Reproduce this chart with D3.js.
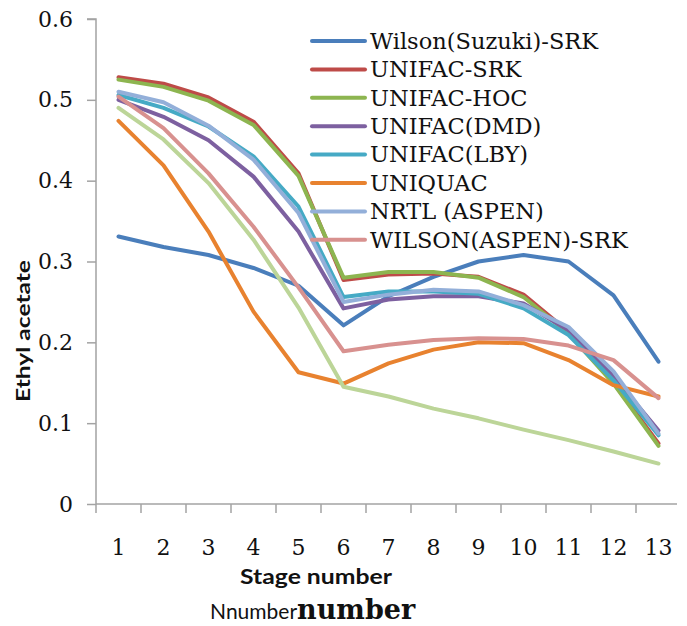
<!DOCTYPE html>
<html>
<head>
<meta charset="utf-8">
<script src="https://cdn.jsdelivr.net/npm/d3@7"></script>
<style>
  html, body { margin: 0; padding: 0; background: #fff; }
  svg { display: block; }
</style>
</head>
<body>
<svg id="chart" width="687" height="626"></svg>
<script>
// ---- data ----
const stages = ["1","2","3","4","5","6","7","8","9","10","11","12","13"];
const yTicks = [0, 0.1, 0.2, 0.3, 0.4, 0.5, 0.6];
const yTickLabels = ["0", "0.1", "0.2", "0.3", "0.4", "0.5", "0.6"];

const wilsonSuzukiSRK = [0.331, 0.318, 0.308, 0.292, 0.270, 0.221, 0.257, 0.281, 0.300, 0.308, 0.300, 0.258, 0.176];
const unifacSRK       = [0.528, 0.520, 0.503, 0.473, 0.409, 0.277, 0.284, 0.285, 0.281, 0.259, 0.213, 0.150, 0.075];
const unifacHOC       = [0.525, 0.516, 0.499, 0.469, 0.406, 0.280, 0.287, 0.287, 0.280, 0.256, 0.211, 0.149, 0.072];
const unifacDMD       = [0.500, 0.479, 0.450, 0.405, 0.337, 0.242, 0.253, 0.257, 0.257, 0.248, 0.215, 0.158, 0.091];
const unifacLBY       = [0.506, 0.490, 0.467, 0.430, 0.368, 0.256, 0.263, 0.263, 0.260, 0.242, 0.209, 0.153, 0.085];
const uniquac         = [0.474, 0.419, 0.337, 0.238, 0.163, 0.149, 0.174, 0.191, 0.200, 0.199, 0.178, 0.147, 0.133];
const nrtlAspen       = [0.510, 0.497, 0.468, 0.426, 0.360, 0.250, 0.259, 0.265, 0.263, 0.246, 0.219, 0.164, 0.087];
const wilsonAspenSRK  = [0.504, 0.465, 0.409, 0.343, 0.268, 0.189, 0.197, 0.203, 0.205, 0.204, 0.196, 0.178, 0.131];
const unlabeledSeries = [0.490, 0.451, 0.397, 0.327, 0.243, 0.145, 0.133, 0.118, 0.106, 0.092, 0.079, 0.065, 0.050];

const seriesNames  = ["Wilson(Suzuki)-SRK", "UNIFAC-SRK", "UNIFAC-HOC", "UNIFAC(DMD)", "UNIFAC(LBY)", "UNIQUAC", "NRTL (ASPEN)", "WILSON(ASPEN)-SRK", ""];
const seriesValues = [wilsonSuzukiSRK, unifacSRK, unifacHOC, unifacDMD, unifacLBY, uniquac, nrtlAspen, wilsonAspenSRK, unlabeledSeries];
const seriesColors = ["#4A7EBB", "#BE4B48", "#8DB550", "#7D60A0", "#46AAC5", "#E8822F", "#93AFD9", "#D8918F", "#BCD598"];

const yTitle = "Ethyl acetate";
const xTitle = "Stage number";
const extraTitleA = "Nnumber";
const extraTitleB = "number";

// ---- layout ----
const svg = d3.select("#chart");
const plotLeft = 96, plotRight = 681, plotTop = 19, plotBottom = 504;
const axisColor = "#A3A3A3";
const serif = "'DejaVu Serif', serif";

const x = d3.scaleBand().domain(stages).range([plotLeft, plotRight]).padding(0);
const y = d3.scaleLinear().domain([0, 0.6]).range([plotBottom, plotTop]);

// y axis
const yAxis = d3.axisLeft(y).tickValues(yTicks).tickSize(9).tickPadding(14)
  .tickFormat((d, i) => yTickLabels[i]);
const gy = svg.append("g").attr("transform", `translate(${plotLeft},0)`).call(yAxis);
gy.select(".domain").attr("stroke", axisColor).attr("stroke-width", 1.5)
  .attr("d", `M-9,${plotTop}H0V${plotBottom}`);
gy.selectAll(".tick line").attr("stroke", axisColor).attr("stroke-width", 1.5);
gy.selectAll(".tick text").attr("font-family", serif).attr("font-size", 22).attr("fill", "#111");

// x axis: ticks at band boundaries, labels at band centres
const gx = svg.append("g").attr("transform", `translate(0,${plotBottom})`);
gx.append("line").attr("x1", plotLeft).attr("x2", plotRight - 4).attr("y1", 0).attr("y2", 0)
  .attr("stroke", axisColor).attr("stroke-width", 1.5);
gx.selectAll("line.tk").data(stages).join("line").attr("class", "tk")
  .attr("x1", d => x(d)).attr("x2", d => x(d)).attr("y1", 0).attr("y2", 9)
  .attr("stroke", axisColor).attr("stroke-width", 1.5);
gx.selectAll("text").data(stages).join("text")
  .attr("x", d => x(d) + x.bandwidth() / 2).attr("y", 51)
  .attr("text-anchor", "middle")
  .attr("font-family", serif).attr("font-size", 22).attr("fill", "#111")
  .text(d => d);

// lines
const line = d3.line()
  .x((d, i) => x(stages[i]) + x.bandwidth() / 2)
  .y(d => y(d));
svg.append("g").selectAll("path").data(seriesValues).join("path")
  .attr("d", d => line(d))
  .attr("fill", "none")
  .attr("stroke", (d, i) => seriesColors[i])
  .attr("stroke-width", 4)
  .attr("stroke-linejoin", "round")
  .attr("stroke-linecap", "round");

// legend
const legendItems = seriesNames.map((n, i) => ({ name: n, color: seriesColors[i] })).filter(d => d.name);
const lg = svg.append("g");
const row = lg.selectAll("g").data(legendItems).join("g")
  .attr("transform", (d, i) => `translate(310,${41 + i * 28.4})`);
row.append("line").attr("x1", 2).attr("x2", 55).attr("y1", 0).attr("y2", 0)
  .attr("stroke", d => d.color).attr("stroke-width", 4).attr("stroke-linecap", "round");
row.append("text").attr("x", 60).attr("y", 0).attr("dy", "0.35em")
  .attr("font-family", serif).attr("font-size", 22.5).attr("fill", "#111")
  .text(d => d.name);

// axis titles
svg.append("text")
  .attr("transform", "translate(30,331) rotate(-90)")
  .attr("text-anchor", "middle")
  .attr("font-family", "Lato, 'Open Sans', sans-serif").attr("font-weight", 700)
  .attr("font-size", 19).attr("fill", "#111")
  .attr("textLength", 142).attr("lengthAdjust", "spacingAndGlyphs")
  .text(yTitle);

svg.append("text")
  .attr("x", 240).attr("y", 584)
  .attr("font-family", "Lato, 'Open Sans', sans-serif").attr("font-weight", 700)
  .attr("font-size", 20).attr("fill", "#111")
  .attr("textLength", 152).attr("lengthAdjust", "spacingAndGlyphs")
  .text(xTitle);

const t2 = svg.append("text").attr("x", 210).attr("y", 619).attr("fill", "#111");
t2.append("tspan")
  .attr("font-family", "Lato, 'Open Sans', sans-serif").attr("font-size", 21)
  .text(extraTitleA);
t2.append("tspan")
  .attr("font-family", serif).attr("font-weight", 700).attr("font-size", 27)
  .text(extraTitleB);
</script>
</body>
</html>
